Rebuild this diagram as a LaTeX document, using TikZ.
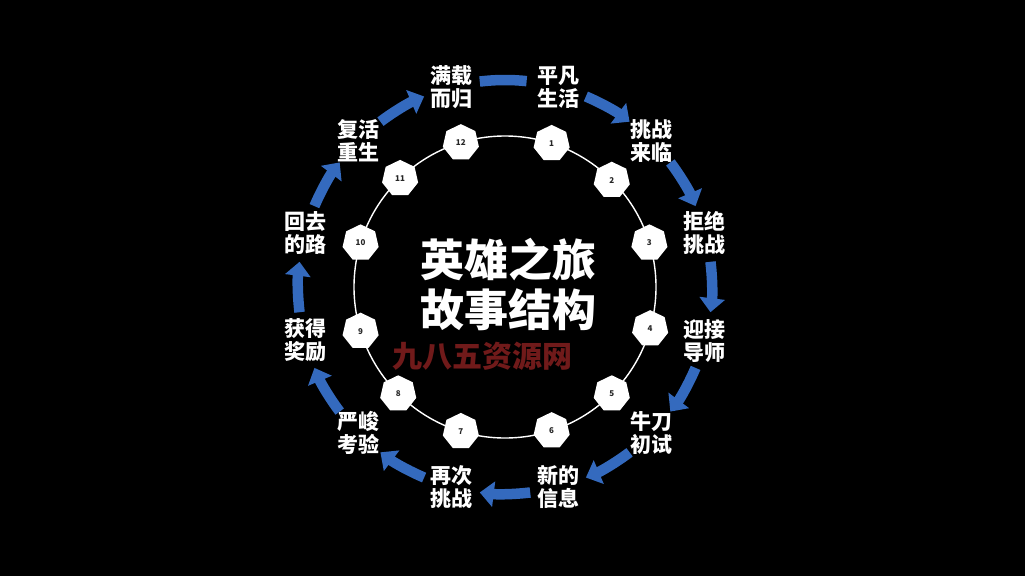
\documentclass[tikz,border=0pt]{standalone}
\usepackage{fontspec}
\newfontfamily\cjk{Noto Sans CJK SC}
\usetikzlibrary{shapes.geometric,arrows.meta}
\definecolor{arrblue}{RGB}{52,106,190}
\definecolor{wmred}{RGB}{112,26,26}
\begin{document}
\begin{tikzpicture}[x=1pt,y=1pt,
  hept/.style={regular polygon, regular polygon sides=7, fill=white, minimum size=37pt, inner sep=0pt,
    font=\cjk\bfseries\fontsize{8}{8}\selectfont, text=black!85},
  lab/.style={text=white, font=\cjk\bfseries\fontsize{21}{23}\selectfont, align=center, inner sep=0pt},
  ttl/.style={text=white, font=\cjk\bfseries\fontsize{44}{50}\selectfont, align=center, inner sep=0pt},
  wmark/.style={text=wmred, font=\cjk\bfseries\fontsize{30}{30}\selectfont, inner sep=0pt},
  arr/.style={draw=arrblue, line width=10.5pt, -{Triangle[width=25pt,length=14pt]}},
  barline/.style={draw=arrblue, line width=10.5pt},
  ring/.style={draw=white, line width=1.4pt}]
\fill[black] (0,0) rectangle (1025,-576);
\useasboundingbox (0,0) rectangle (1025,-576);
\coordinate (c) at (505,-287);
% ring
\draw[ring] (c) circle (151);
% heptagons
\foreach \n/\a in {1/72,2/45,3/17,4/-16,5/-45,6/-72,7/-107,8/-135,9/-163,10/163,11/134,12/107}{
  \node[hept] (h\n) at ([shift={(\a:151)}]c) {\n};
}
% title
\node[ttl] (title) at (508,-284) {英雄之旅\\故事结构};
\node[wmark] (wm) at (482,-356) {九八五资源网};
% labels
\foreach \n/\a/\t in {1/75/{平凡\\生活},2/45/{挑战\\来临},3/15/{拒绝\\挑战},4/-15/{迎接\\导师},
  5/-45/{牛刀\\初试},6/-75/{新的\\信息},7/-105/{再次\\挑战},8/-135/{严峻\\考验},
  9/-165/{获得\\奖励},10/165/{回去\\的路},11/135/{复活\\重生},12/105/{满载\\而归}}{
  \node[lab] (l\n) at ([shift={(\a:207)}]c) {\t};
}
% arrows
\foreach \a in {75,45,15,-15,-45,-75,-105,-135,-165,165,135}{
  \draw[arr] ([shift={(\a-8:207)}]c) arc[start angle=\a-8, end angle=\a-22, radius=207];
}
\draw[barline] ([shift={(97:207)}]c) arc[start angle=97, end angle=84, radius=207];
\end{tikzpicture}
\end{document}
